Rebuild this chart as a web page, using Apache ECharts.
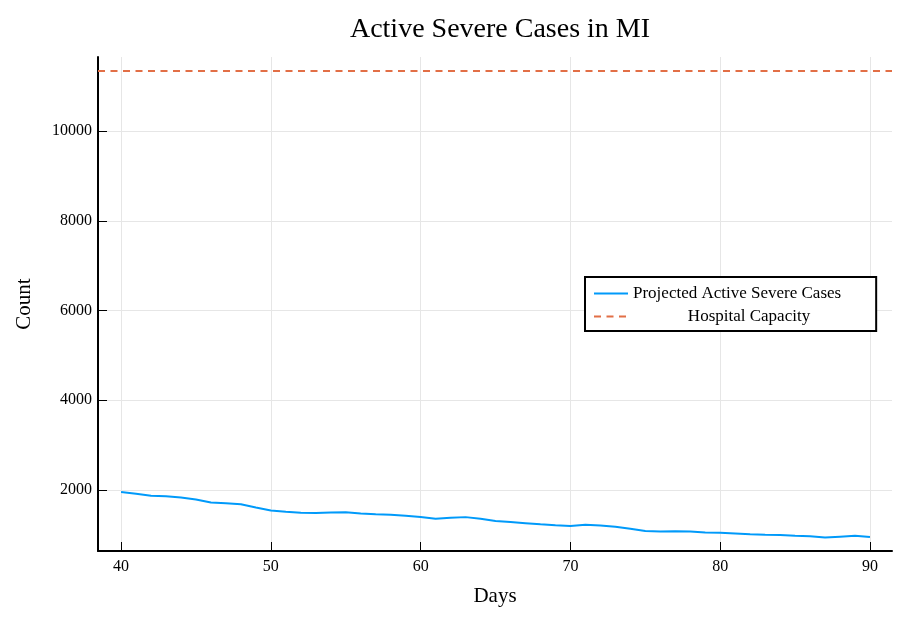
<!DOCTYPE html>
<html lang="en">
<head>
    <meta charset="UTF-8">
    <title>Active Severe Cases in MI</title>
    <script src="https://cdn.jsdelivr.net/npm/echarts@6/dist/echarts.min.js"></script>
    <style>
        html, body { margin: 0; padding: 0; background: #fff; }
        #chart { width: 903px; height: 621px; }
    </style>
</head>
<body>
<div id="chart"></div>
<script>
    // data
    var days = [40, 41, 42, 43, 44, 45, 46, 47, 48, 49,
                50, 51, 52, 53, 54, 55, 56, 57, 58, 59,
                60, 61, 62, 63, 64, 65, 66, 67, 68, 69,
                70, 71, 72, 73, 74, 75, 76, 77, 78, 79,
                80, 81, 82, 83, 84, 85, 86, 87, 88, 89, 90];
    var severe = [1955, 1915, 1873, 1860, 1830, 1790, 1720, 1705, 1680, 1610,
                  1545, 1515, 1490, 1485, 1500, 1505, 1475, 1460, 1450, 1425,
                  1398, 1360, 1380, 1395, 1360, 1310, 1285, 1260, 1235, 1215,
                  1198, 1227, 1210, 1183, 1135, 1085, 1075, 1082, 1072, 1052,
                  1049, 1030, 1012, 1000, 997, 980, 968, 940, 960, 980, 953];
    var capacity = 11340;
    var xTicks = [40, 50, 60, 70, 80, 90];
    var yTicks = [2000, 4000, 6000, 8000, 10000];
    var xLimits = [38.46, 91.47];
    var yLimits = [640, 11650];

    var font = 'Liberation Serif';

    var severeData = [];
    for (var i = 0; i < days.length; i++) {
        severeData.push([days[i], severe[i]]);
    }
    var capData = [[xLimits[0], capacity], [xLimits[1], capacity]];

    var myChart = echarts.init(document.getElementById('chart'));
    var option = {
        animation: false,
        backgroundColor: '#fff',
        title: {
            text: 'Active Severe Cases in MI',
            left: 495,
            textAlign: 'center',
            top: 11,
            textStyle: { fontFamily: font, fontSize: 28, fontWeight: 'normal', color: '#000' }
        },
        legend: {
            orient: 'vertical',
            left: 585,
            top: 277,
            padding: [8, 35, 6, 8],
            itemGap: 6,
            itemWidth: 34,
            itemHeight: 14,
            itemStyle: { opacity: 0 },
            borderColor: '#000',
            borderWidth: 2,
            borderRadius: 0,
            backgroundColor: '#fff',
            formatter: function (name) {
                return (name === 'Hospital Capacity' ? '{c|' : '{a|') + name + '}';
            },
            textStyle: {
                fontFamily: font,
                fontSize: 17,
                color: '#000',
                rich: {
                    a: { width: 232, align: 'left', fontFamily: font, fontSize: 17 },
                    c: { width: 232, align: 'center', fontFamily: font, fontSize: 17 }
                }
            },
            data: ['Projected Active Severe Cases', 'Hospital Capacity']
        },
        grid: { left: 98, right: 11, top: 57, bottom: 70 },
        xAxis: {
            type: 'value',
            min: xLimits[0],
            max: xLimits[1],
            name: 'Days',
            nameLocation: 'middle',
            nameGap: 35,
            nameTextStyle: { fontFamily: font, fontSize: 21, color: '#000' },
            axisLine: { show: true, onZero: false, lineStyle: { color: '#000', width: 2 } },
            axisTick: { show: true, inside: true, length: 9, customValues: xTicks, lineStyle: { color: '#000', width: 1 } },
            axisLabel: { customValues: xTicks, fontFamily: font, fontSize: 16, color: '#000', margin: 8 },
            splitLine: { show: true, lineStyle: { color: '#e6e6e6', width: 1 } }
        },
        yAxis: {
            type: 'value',
            min: yLimits[0],
            max: yLimits[1],
            name: 'Count',
            nameLocation: 'middle',
            nameGap: 63,
            nameTextStyle: { fontFamily: font, fontSize: 21, color: '#000' },
            axisLine: { show: true, onZero: false, lineStyle: { color: '#000', width: 2 } },
            axisTick: { show: true, inside: true, length: 9, customValues: yTicks, lineStyle: { color: '#000', width: 1 } },
            axisLabel: {
                customValues: yTicks,
                formatter: function (v) { return String(v); },
                fontFamily: font, fontSize: 16, color: '#000', margin: 6
            },
            splitLine: { show: true, lineStyle: { color: '#e6e6e6', width: 1 } }
        },
        series: [
            {
                name: 'Projected Active Severe Cases',
                type: 'line',
                data: severeData,
                showSymbol: false,
                symbol: 'none',
                color: '#009afa',
                lineStyle: { color: '#009afa', width: 2 },
                z: 3
            },
            {
                name: 'Hospital Capacity',
                type: 'line',
                data: capData,
                showSymbol: false,
                symbol: 'none',
                color: '#e26f46',
                lineStyle: { color: '#e26f46', width: 2, type: [7, 5.5] },
                z: 2
            }
        ]
    };
    myChart.setOption(option);
</script>
</body>
</html>
